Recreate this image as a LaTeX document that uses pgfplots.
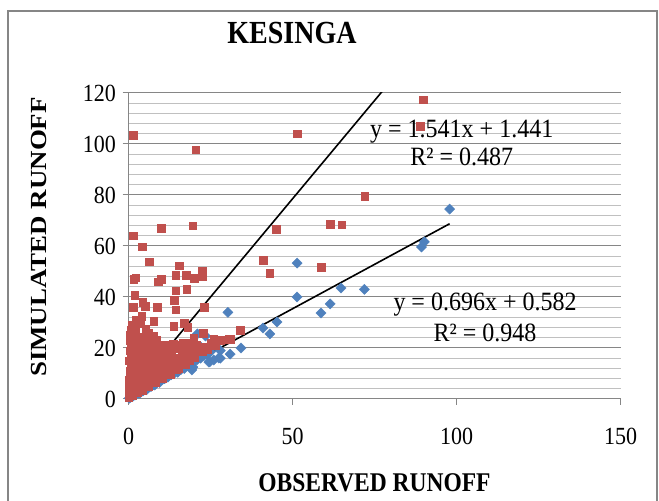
\documentclass[border=0pt]{standalone}
\usepackage{fontspec}
\setmainfont{Liberation Serif}
\usepackage{graphicx}
\usepackage{pgfplots}
\pgfplotsset{compat=1.18}
\definecolor{xlblue}{RGB}{79,129,189}
\definecolor{xlred}{RGB}{192,80,77}
\definecolor{gridmaj}{RGB}{134,134,134}
\definecolor{gridmin}{RGB}{192,192,192}
\begin{document}
\begin{tikzpicture}[x=1bp,y=1bp]
\useasboundingbox (0,0) rectangle (659,501);
\draw[gridmaj, line width=1.5bp] (8,-5) rectangle (657,490);
\node[font=\fontsize{28bp}{32bp}\selectfont\bfseries] at (292,468) {\scalebox{1}[1.15]{KESINGA}};
\node[font=\fontsize{23.5bp}{28bp}\selectfont\bfseries] at (374.5,18) {\scalebox{1}[1.15]{OBSERVED RUNOFF}};
\node[font=\fontsize{23bp}{28bp}\selectfont\bfseries, rotate=90] at (39,264) {\scalebox{1.17}[1]{SIMULATED RUNOFF}};
\begin{axis}[
  at={(128.5bp,102bp)}, anchor=south west,
  scale only axis, width=492bp, height=306bp,
  xmin=0, xmax=150, ymin=0, ymax=120,
  xtick={0,50,100,150}, ytick={0,20,...,120},
  minor y tick num=4,
  ymajorgrids, yminorgrids,
  major grid style={gridmaj, line width=1bp},
  minor grid style={gridmin, line width=1bp},
  axis x line*=bottom, axis y line*=left,
  axis line style={gridmaj, line width=1bp, -},
  tick align=outside, major tick length=6bp, minor tick length=0pt,
  tick style={gridmaj, line width=1bp},
  /pgf/number format/assume math mode=true,
  ticklabel style={font=\fontsize{22bp}{26bp}\selectfont},
  xticklabel={\scalebox{1}[1.12]{\pgfmathprintnumber{\tick}}},
  yticklabel={\scalebox{1}[1.12]{\pgfmathprintnumber{\tick}}},
  xticklabel style={yshift=-20bp},
  yticklabel style={xshift=-3bp},
  clip marker paths=false,
]
\addplot[only marks, mark=square*, mark size=3.6bp, mark options={rotate=45, fill=xlblue, draw=xlblue}] coordinates {
(51.4,53.3) (51.4,40) (64.8,43.5) (71.9,43) (61.5,37.3) (58.7,33.7) (45.3,30.2) (41,27.8) (43.1,25.5) (34.3,20) (31,17.6) (30.3,34)
(97.9,74.5) (89.3,59.6) (90.2,61.6) (23.5,24.7) (22,20.4) (16.8,18) (26,15.3) (27.5,16.1) (19.6,12.5) (9.8,12.5)
(21,25.5) (28,16) (24.8,14.6) (19.3,11.4)
(0.2,0.3) (0.5,0.6) (1,0.9) (1.5,1.2) (2,1.6) (2.5,2) (3,2.4) (3.5,2.3) (4,3) (4.5,3.2) (5,3.8) (5.5,3.6) (6,4.4) (6.5,4.8)
(7,5) (7.5,5.6) (8,5.5) (8.5,6.2) (9,6.8) (9.5,6.5) (10,7.5) (11,8) (12,8.6) (13,9.5) (14,10.2) (15,10.5) (16,11.6) (17,12)
(18,13.5) (19,14) (20,14.5) (21,15.5) (22,16) (23,17) (24,17.5) (25,18.5) (11.5,10.5) (13.5,12) (15.5,13.5) (17.5,15.5)
(21,18.5) (24.5,14.5) (28,19)
};
\addplot[only marks, mark=square*, mark size=3.8bp, mark options={fill=xlred, draw=xlred}] coordinates {
(1.5,103.5) (20.5,97.8) (51.4,104) (89.9,117.3) (88.9,107) (1.5,64) (10,67) (19.6,68) (45,66.5) (72,79.6) (61.5,68.6) (65,68.4)
(41,54.5) (43,49.4) (58.7,51.8) (34,27) (31,23.5)
(4.2,59.7) (6.4,53.8) (15.5,52.3) (14.4,48.6) (17.5,48.6) (22.4,50) (22.6,48.2) (20,47.4) (1.6,47) (2.2,47.5) (9.1,46) (10,47)
(14.4,42.4) (17.8,43) (1.9,40.8) (14,38.8) (1.5,36) (4.3,38) (5,36.5) (8.8,36) (14.4,35) (23,36) (4,32.5) (7.7,30.6) (1.2,29)
(2.5,29.5) (13.8,28.6) (16.9,29.7) (18,28.2) (5.2,27.4) (7.6,24.7) (19.9,23.9) (22.7,25.9) (26,23.5) (28,23.1) (30.6,23.5)
(16.5,22) (10.7,20.4)
(0.1,0.5) (0.2,1.5) (0.3,3) (0.2,4.5) (0.5,6) (0.3,7.5) (0.6,9) (0.4,11) (0.7,13) (0.3,15) (0.8,17) (0.5,19) (0.9,21) (0.4,23)
(0.6,25) (0.8,27)
(1.2,1.5) (1.5,3) (1.3,5) (1.8,7) (1.4,9) (2,11) (1.6,13) (2.2,15) (1.9,18) (1.5,20) (2.3,22) (1.7,24) (2.1,26.5) (2.4,31)
(2.7,2.5) (3,4.5) (3.3,6.5) (2.9,8.5) (3.6,10) (3.2,12) (3.8,14.5) (3.4,17) (3.1,19.5) (3.7,21) (3.9,24.5) (3.5,29.5)
(4.2,3.5) (4.5,5.5) (4.8,8) (5.2,10) (4.4,12.5) (5.5,14) (4.9,16.5) (5.8,18) (4.6,20) (5.3,23) (6,26)
(6.2,5) (6.6,7) (7,9) (6.4,11.5) (7.4,13) (6.8,15.5) (7.7,17.5) (6.5,19) (7.2,21) (7.9,22.5)
(8.2,6.5) (8.6,8.5) (9,10.5) (8.4,12.5) (9.4,14) (8.8,16) (9.7,18) (9.2,20.5) (8.5,23)
(10.2,8) (10.6,10) (11,12) (10.4,14.5) (11.5,16) (11.9,18.5) (10.9,21) (12.2,11.5) (12.4,14)
(12.8,9.5) (13.2,12) (13.6,14) (14,16) (13.1,18) (14.5,11.5) (14.8,20) (13.7,21.5)
(15.3,12) (15.8,14.5) (16.3,17) (16.8,19) (15.5,21) (17.2,13.5) (17.6,16) (18,18.5)
(18.5,15) (19,17) (19.5,19) (20.2,16.5) (20.8,21) (21.5,18.5) (18.8,22)
(22.4,18.5) (23,20.5) (24,19.5) (25,22) (26.5,21)
};
\addplot[black, line width=1.6bp] coordinates {(0,1.441) (89.9,139.98)};
\addplot[black, line width=1.6bp] coordinates {(0,0.582) (97.9,68.72)};
\node[font=\fontsize{24bp}{28bp}\selectfont] at (axis cs:101.6,104.7) {\scalebox{1}[1.1]{y = 1.541x + 1.441}};
\node[font=\fontsize{24bp}{28bp}\selectfont] at (axis cs:101.6,94.9) {\scalebox{1}[1.1]{R² = 0.487}};
\node[font=\fontsize{24bp}{28bp}\selectfont] at (axis cs:108.7,36.9) {\scalebox{1}[1.1]{y = 0.696x + 0.582}};
\node[font=\fontsize{24bp}{28bp}\selectfont] at (axis cs:108.7,25.9) {\scalebox{1}[1.1]{R² = 0.948}};
\end{axis}
\end{tikzpicture}
\end{document}
